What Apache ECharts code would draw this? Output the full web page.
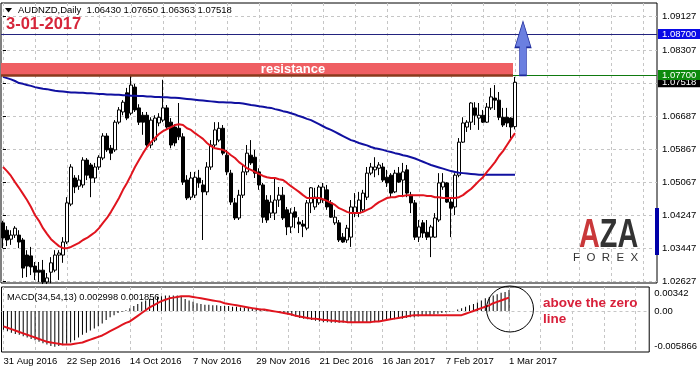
<!DOCTYPE html>
<html><head><meta charset="utf-8">
<script src="https://cdn.jsdelivr.net/npm/echarts@6/dist/echarts.min.js"></script>
<style>html,body{margin:0;padding:0;background:#fff}#c{width:700px;height:372px}</style>
</head><body><div id="c"></div>
<script>
// ---------- data ----------
const dateLabels = ['31 Aug 2016','22 Sep 2016','14 Oct 2016','7 Nov 2016','29 Nov 2016','21 Dec 2016','16 Jan 2017','7 Feb 2017','1 Mar 2017'];
const labelBars = [0,16,32,48,64,80,96,112,128];
const gridBars = [0,8,16,24,32,40,48,56,64,72,80,88,96,104,112,120,128,136,144,152,160];
const priceTicks = [1.02627,1.03447,1.04247,1.05067,1.05867,1.06687,1.07487,1.08307,1.09127];
const priceLabels = [1.02627,1.03447,1.04247,1.05067,1.05867,1.06687,1.08307,1.09127];
const macdLabels = [-0.005866,0,0.00342];
const macdGrid = [0];
// [open, close, low, high]
const candles = [
[1.0407,1.0370,1.0345,1.0412],[1.0389,1.0365,1.0350,1.0399],[1.0367,1.0377,1.0353,1.0389],[1.0377,1.0394,1.0370,1.0399],
[1.0377,1.0360,1.0345,1.0389],[1.0365,1.0296,1.0272,1.0370],[1.0328,1.0301,1.0274,1.0340],[1.0326,1.0299,1.0279,1.0348],
[1.0301,1.0286,1.0267,1.0311],[1.0291,1.0286,1.0262,1.0311],[1.0291,1.0262,1.0257,1.0316],[1.0262,1.0272,1.0257,1.0284],
[1.0286,1.0309,1.0259,1.0323],[1.0291,1.0328,1.0286,1.0340],[1.0328,1.0333,1.0267,1.0340],[1.0328,1.0360,1.0309,1.0372],
[1.0360,1.0456,1.0355,1.0470],[1.0453,1.0544,1.0448,1.0551],[1.0517,1.0495,1.0480,1.0524],[1.0497,1.0512,1.0488,1.0524],
[1.0500,1.0561,1.0493,1.0568],[1.0561,1.0524,1.0512,1.0566],[1.0549,1.0517,1.0470,1.0554],[1.0517,1.0544,1.0505,1.0554],
[1.0544,1.0568,1.0537,1.0573],[1.0566,1.0620,1.0561,1.0627],[1.0620,1.0586,1.0581,1.0627],[1.0590,1.0578,1.0561,1.0598],
[1.0586,1.0654,1.0581,1.0659],[1.0654,1.0684,1.0649,1.0691],[1.0679,1.0703,1.0671,1.0708],[1.0726,1.0664,1.0659,1.0738],
[1.0676,1.0745,1.0671,1.0770],[1.0740,1.0684,1.0679,1.0748],[1.0689,1.0654,1.0647,1.0698],[1.0671,1.0654,1.0623,1.0679],
[1.0671,1.0598,1.0590,1.0679],[1.0598,1.0659,1.0590,1.0666],[1.0610,1.0664,1.0605,1.0671],[1.0652,1.0666,1.0644,1.0676],
[1.0659,1.0689,1.0654,1.0758],[1.0689,1.0642,1.0635,1.0696],[1.0654,1.0598,1.0590,1.0664],[1.0642,1.0603,1.0595,1.0649],
[1.0639,1.0618,1.0610,1.0701],[1.0618,1.0507,1.0500,1.0627],[1.0512,1.0468,1.0463,1.0524],[1.0470,1.0517,1.0463,1.0532],
[1.0475,1.0519,1.0468,1.0532],[1.0517,1.0505,1.0493,1.0537],[1.0500,1.0483,1.0365,1.0512],[1.0483,1.0544,1.0475,1.0556],
[1.0544,1.0598,1.0537,1.0610],[1.0598,1.0635,1.0590,1.0654],[1.0610,1.0639,1.0605,1.0654],[1.0639,1.0578,1.0573,1.0647],
[1.0573,1.0532,1.0524,1.0586],[1.0529,1.0458,1.0451,1.0537],[1.0456,1.0419,1.0414,1.0468],[1.0419,1.0475,1.0414,1.0488],
[1.0475,1.0532,1.0468,1.0549],[1.0532,1.0578,1.0524,1.0598],[1.0573,1.0554,1.0549,1.0610],[1.0568,1.0529,1.0517,1.0586],
[1.0532,1.0500,1.0488,1.0541],[1.0500,1.0421,1.0407,1.0505],[1.0463,1.0414,1.0407,1.0475],[1.0431,1.0458,1.0419,1.0475],
[1.0431,1.0463,1.0414,1.0517],[1.0463,1.0475,1.0446,1.0495],[1.0475,1.0419,1.0414,1.0495],[1.0439,1.0397,1.0377,1.0446],
[1.0397,1.0431,1.0382,1.0443],[1.0434,1.0421,1.0394,1.0446],[1.0409,1.0404,1.0382,1.0421],[1.0404,1.0399,1.0372,1.0414],
[1.0394,1.0456,1.0389,1.0463],[1.0456,1.0493,1.0431,1.0495],[1.0446,1.0470,1.0439,1.0493],[1.0456,1.0495,1.0451,1.0500],
[1.0463,1.0495,1.0456,1.0505],[1.0488,1.0446,1.0439,1.0500],[1.0456,1.0421,1.0419,1.0463],[1.0407,1.0421,1.0402,1.0439],
[1.0407,1.0365,1.0360,1.0414],[1.0372,1.0360,1.0358,1.0382],[1.0365,1.0394,1.0358,1.0402],[1.0372,1.0446,1.0348,1.0463],
[1.0431,1.0446,1.0421,1.0480],[1.0431,1.0463,1.0421,1.0483],[1.0439,1.0480,1.0434,1.0488],[1.0470,1.0529,1.0463,1.0544],
[1.0529,1.0544,1.0524,1.0554],[1.0537,1.0544,1.0519,1.0568],[1.0541,1.0549,1.0524,1.0556],[1.0544,1.0512,1.0507,1.0554],
[1.0519,1.0505,1.0495,1.0537],[1.0524,1.0480,1.0470,1.0529],[1.0483,1.0529,1.0480,1.0537],[1.0529,1.0507,1.0505,1.0544],
[1.0512,1.0532,1.0470,1.0554],[1.0537,1.0480,1.0470,1.0549],[1.0475,1.0456,1.0431,1.0483],[1.0456,1.0372,1.0365,1.0463],
[1.0372,1.0397,1.0360,1.0414],[1.0407,1.0382,1.0370,1.0414],[1.0384,1.0372,1.0365,1.0414],[1.0372,1.0397,1.0323,1.0402],
[1.0372,1.0419,1.0370,1.0431],[1.0414,1.0505,1.0409,1.0529],[1.0495,1.0507,1.0488,1.0529],[1.0505,1.0458,1.0456,1.0507],
[1.0458,1.0443,1.0372,1.0470],[1.0446,1.0524,1.0426,1.0529],[1.0524,1.0605,1.0519,1.0615],[1.0605,1.0652,1.0603,1.0666],
[1.0642,1.0654,1.0630,1.0659],[1.0654,1.0701,1.0635,1.0703],[1.0689,1.0671,1.0647,1.0703],[1.0664,1.0671,1.0635,1.0701],
[1.0671,1.0654,1.0652,1.0684],[1.0654,1.0691,1.0652,1.0701],[1.0689,1.0716,1.0684,1.0738],[1.0713,1.0708,1.0684,1.0745],
[1.0708,1.0666,1.0659,1.0728],[1.0666,1.0647,1.0642,1.0689],[1.0666,1.0652,1.0642,1.0689],[1.0664,1.0642,1.0615,1.0666],
[1.06430,1.07518,1.06363,1.07650]
];
const maRed = [
1.0544,1.0534,1.0522,1.0507,1.0493,1.0478,1.0463,1.0446,1.0426,1.0412,
1.0394,1.0380,1.0367,1.0358,1.0350,1.0345,1.0345,1.0348,1.0353,1.0358,
1.0365,1.0370,1.0377,1.0384,1.0394,1.0407,1.0419,1.0434,1.0451,1.0468,
1.0488,1.0505,1.0524,1.0544,1.0561,1.0578,1.0593,1.0605,1.0615,1.0625,
1.0632,1.0637,1.0642,1.0647,1.0649,1.0647,1.0639,1.0635,1.0627,1.0620,
1.0613,1.0603,1.0595,1.0590,1.0588,1.0586,1.0581,1.0573,1.0566,1.0556,
1.0549,1.0541,1.0537,1.0532,1.0527,1.0522,1.0519,1.0517,1.0517,1.0514,
1.0512,1.0505,1.0497,1.0490,1.0483,1.0475,1.0468,1.0468,1.0468,1.0468,
1.0465,1.0461,1.0456,1.0451,1.0443,1.0439,1.0434,1.0431,1.0431,1.0431,
1.0434,1.0439,1.0443,1.0451,1.0458,1.0463,1.0468,1.0470,1.0470,1.0473,
1.0473,1.0475,1.0475,1.0475,1.0475,1.0475,1.0473,1.0473,1.0470,1.0470,
1.0468,1.0468,1.0468,1.0468,1.0470,1.0475,1.0483,1.0490,1.0500,1.0510,
1.0519,1.0532,1.0544,1.0556,1.0571,1.0583,1.0598,1.0613,1.0627];
const maBlue = [
1.0765,1.0762,1.0759,1.0755,1.0750,1.0748,1.0745,1.0743,1.0740,1.0738,
1.0736,1.0735,1.0733,1.0731,1.0730,1.0729,1.0728,1.0727,1.0727,1.0726,
1.0726,1.0725,1.0725,1.0724,1.0723,1.0723,1.0722,1.0722,1.0721,1.0721,
1.0720,1.0720,1.0719,1.0719,1.0718,1.0718,1.0717,1.0717,1.0716,1.0716,
1.0715,1.0715,1.0714,1.0714,1.0713,1.0712,1.0711,1.0710,1.0709,1.0708,
1.0707,1.0706,1.0705,1.0704,1.0703,1.0703,1.0702,1.0702,1.0701,1.0701,
1.0700,1.0698,1.0696,1.0695,1.0693,1.0692,1.0690,1.0689,1.0686,1.0684,
1.0681,1.0679,1.0676,1.0673,1.0669,1.0666,1.0662,1.0659,1.0654,1.0649,
1.0644,1.0639,1.0635,1.0630,1.0625,1.0620,1.0615,1.0610,1.0607,1.0603,
1.0600,1.0597,1.0593,1.0590,1.0588,1.0586,1.0583,1.0581,1.0578,1.0576,
1.0573,1.0571,1.0568,1.0565,1.0561,1.0557,1.0553,1.0549,1.0546,1.0543,
1.0540,1.0537,1.0534,1.0532,1.0530,1.0529,1.0528,1.0527,1.0526,1.0525,
1.0525,1.0525,1.0525,1.0525,1.0525,1.0525,1.0525,1.0525,1.0525];
const macdHist = [
-0.0027,-0.0029,-0.0031,-0.0033,-0.0034,-0.0036,-0.0038,-0.0040,-0.0042,-0.0044,
-0.0046,-0.0048,-0.0050,-0.0051,-0.0050,-0.0049,-0.0047,-0.0045,-0.0042,-0.0038,
-0.0034,-0.0031,-0.0028,-0.0025,-0.0022,-0.0018,-0.0013,-0.0009,-0.0006,-0.0003,
-0.0001,0.0001,0.0004,0.0007,0.0010,0.0013,0.0015,0.0017,0.0019,0.0020,
0.0021,0.0022,0.0022,0.0022,0.0022,0.0020,0.0017,0.0015,0.0013,0.0011,
0.0010,0.0009,0.0009,0.0008,0.0008,0.0007,0.0007,0.0007,0.0006,0.0006,
0.0005,0.0005,0.0005,0.0004,0.0004,0.0003,0.0002,0.0001,0.0000,-0.0001,
-0.0002,-0.0004,-0.0005,-0.0007,-0.0008,-0.0010,-0.0011,-0.0012,-0.0013,-0.0014,
-0.0015,-0.0016,-0.0016,-0.0017,-0.0017,-0.0017,-0.0017,-0.0017,-0.0017,-0.0017,
-0.0017,-0.0016,-0.0016,-0.0016,-0.0016,-0.0015,-0.0014,-0.0013,-0.0012,-0.0012,
-0.0011,-0.0011,-0.0010,-0.0009,-0.0009,-0.0008,-0.0007,-0.0006,-0.0006,-0.0005,
-0.0004,-0.0003,-0.0002,-0.0001,0.0000,0.0002,0.0004,0.0006,0.0008,0.0010,
0.0012,0.0015,0.0018,0.0020,0.0022,0.0024,0.0026,0.0027,0.0030];
const macdSignal = [
-0.0022,-0.0024,-0.0026,-0.0028,-0.0030,-0.0032,-0.0034,-0.0036,-0.0038,-0.0040,
-0.0042,-0.0044,-0.0045,-0.0046,-0.0047,-0.0048,-0.0048,-0.0048,-0.0047,-0.0046,
-0.0045,-0.0043,-0.0041,-0.0039,-0.0037,-0.0035,-0.0032,-0.0029,-0.0026,-0.0023,
-0.0020,-0.0017,-0.0015,-0.0011,-0.0007,-0.0003,0.0001,0.0005,0.0008,0.0011,
0.0014,0.0016,0.0018,0.0019,0.0020,0.0021,0.0021,0.0021,0.0020,0.0019,
0.0018,0.0017,0.0016,0.0015,0.0014,0.0013,0.0011,0.0010,0.0009,0.0008,
0.0007,0.0006,0.0005,0.0004,0.0003,0.0002,0.0002,0.0001,0.0000,-0.0001,
-0.0002,-0.0003,-0.0004,-0.0005,-0.0007,-0.0008,-0.0009,-0.0010,-0.0011,-0.0011,
-0.0012,-0.0013,-0.0013,-0.0014,-0.0014,-0.0015,-0.0015,-0.0016,-0.0016,-0.0016,
-0.0016,-0.0016,-0.0016,-0.0016,-0.0015,-0.0015,-0.0014,-0.0013,-0.0012,-0.0011,
-0.0010,-0.0009,-0.0008,-0.0007,-0.0006,-0.0006,-0.0006,-0.0006,-0.0006,-0.0006,
-0.0006,-0.0006,-0.0006,-0.0006,-0.0006,-0.0006,-0.0006,-0.0004,-0.0002,0.0000,
0.0002,0.0004,0.0006,0.0008,0.0011,0.0013,0.0015,0.0017,0.0019];
const resistanceZone = [1.0770, 1.0799];
const resistanceEndBar = 127.5;
const levelBlue = 1.08700;
const levelGreen = 1.07700;
const lastClose = 1.07518;
const arrowBar = 130, arrowMid = 1.0835;
const macdText = 'MACD(34,54,13) 0.002998 0.001856';

// ---------- chart ----------
const FONT = 'Liberation Sans, Arial, sans-serif';
const last = candles[candles.length - 1];
const headerText = 'AUDNZD,Daily  ' + [last[0], last[3], last[2], last[1]].map(v => v.toFixed(5)).join(' ');
const gridLine = {show: true, lineStyle: {color: '#c6c6c6', type: [3, 3], width: 1}};
const tag = (text, bg) => ({show: true, position: 'end', distance: 1, formatter: text, color: '#fff',
  backgroundColor: bg, padding: [1, 4, 0, 4], fontSize: 9.5, fontFamily: FONT, lineHeight: 9});

const chart = echarts.init(document.getElementById('c'));
chart.setOption({
  animation: false,
  backgroundColor: '#fff',
  grid: [
    {left: 1, top: 3, width: 656, height: 280, show: true, borderColor: '#000', borderWidth: 1},
    {left: 1.5, top: 287, width: 656, height: 65, show: true, borderColor: '#000', borderWidth: 1}
  ],
  xAxis: [
    {type: 'value', gridIndex: 0, min: -0.5, max: 163.5, axisLine: {show: false},
     axisTick: {show: false, customValues: gridBars}, axisLabel: {show: false}, splitLine: gridLine},
    {type: 'value', gridIndex: 1, min: -0.5, max: 163.5, axisLine: {show: false},
     axisTick: {show: false, customValues: gridBars},
     axisLabel: {show: true, customValues: labelBars, formatter: v => dateLabels[labelBars.indexOf(v)] || '',
       align: 'left', color: '#000', fontSize: 9.5, fontFamily: FONT, margin: 4},
     splitLine: gridLine}
  ],
  yAxis: [
    {type: 'value', gridIndex: 0, position: 'right', min: 1.02595, max: 1.09463,
     axisLine: {show: false},
     axisTick: {show: true, customValues: priceTicks, length: 3, lineStyle: {color: '#000'}},
     axisLabel: {customValues: priceLabels, formatter: v => v.toFixed(5), color: '#000', fontSize: 9.5, fontFamily: FONT, margin: 5},
     splitLine: gridLine},
    {type: 'value', gridIndex: 1, position: 'right', min: -0.005866, max: 0.00342,
     axisLine: {show: false},
     axisTick: {show: false, customValues: macdGrid},
     axisLabel: {customValues: macdLabels, color: '#000', fontSize: 9.5, fontFamily: FONT, margin: 5,
       formatter: v => v === 0 ? '0.00' : (v > 0 ? '{t|' + v + '}' : '{b|' + v + '}'),
       rich: {t: {padding: [12, 0, 0, 0], fontSize: 9.5, fontFamily: FONT, color: '#000'},
              b: {padding: [0, 0, 11, 0], fontSize: 9.5, fontFamily: FONT, color: '#000'}}},
     splitLine: gridLine}
  ],
  series: [
    {type: 'candlestick', xAxisIndex: 0, yAxisIndex: 0, silent: true,
     data: candles.map((c, i) => [i, c[0], c[1], c[2], c[3]]),
     encode: {x: 0, y: [1, 2, 3, 4]},
     barWidth: 3,
     itemStyle: {color: '#fff', color0: '#000', borderColor: '#000', borderColor0: '#000', borderWidth: 1},
     markArea: {silent: true, itemStyle: {color: '#ef5f63'},
       label: {show: true, position: 'inside', offset: [36, 0], formatter: 'resistance', color: '#fff',
         fontWeight: 'bold', fontSize: 13, fontFamily: FONT},
       data: [[{coord: [-0.5, resistanceZone[1]]}, {coord: [resistanceEndBar, resistanceZone[0]]}]]},
     markLine: {silent: true, symbol: ['none', 'none'], animation: false, precision: 5,
       data: [
         [{coord: [-0.5, lastClose], lineStyle: {color: 'rgba(0,0,0,0)', width: 0}, label: tag(lastClose.toFixed(5), '#000')},
          {coord: [163.5, lastClose]}],
         [{coord: [-0.5, levelBlue], lineStyle: {color: '#23237f', width: 1, type: 'solid'}, label: tag(levelBlue.toFixed(5), '#0a0ae6')},
          {coord: [163.5, levelBlue]}],
         [{coord: [-0.5, levelGreen], lineStyle: {color: '#8a3a1c', width: 2.5, type: 'solid'}, label: {show: false}},
          {coord: [resistanceEndBar, levelGreen]}],
         [{coord: [resistanceEndBar, levelGreen], lineStyle: {color: '#0f7a0f', width: 1, type: 'solid'},
           label: tag(levelGreen.toFixed(5), '#0d8a0d')},
          {coord: [163.5, levelGreen]}]
       ]},
     markPoint: {silent: true, symbol: 'path://M8 0L16 26L11.5 26L11.5 54L4.5 54L4.5 26L0 26Z',
       symbolSize: [16, 54], label: {show: false},
       itemStyle: {color: '#6b7fe0', borderColor: '#1c2a9c', borderWidth: 1},
       data: [{coord: [arrowBar, arrowMid]}]}
    },
    {type: 'line', xAxisIndex: 0, yAxisIndex: 0, silent: true, symbol: 'none', z: 3,
     data: maBlue.map((v, i) => [i, v]), lineStyle: {color: '#1010a0', width: 2}},
    {type: 'line', xAxisIndex: 0, yAxisIndex: 0, silent: true, symbol: 'none', z: 3,
     data: maRed.map((v, i) => [i, v]), lineStyle: {color: '#e0141e', width: 2}},
    {type: 'bar', xAxisIndex: 1, yAxisIndex: 1, silent: true, barWidth: 1,
     data: macdHist.map((v, i) => [i, v]), itemStyle: {color: '#000'}},
    {type: 'line', xAxisIndex: 1, yAxisIndex: 1, silent: true, symbol: 'none', z: 3,
     data: macdSignal.map((v, i) => [i, v]), lineStyle: {color: '#e0141e', width: 2}}
  ],
  graphic: [
    {type: 'polygon', z: 100, shape: {points: [[5, 8], [12, 8], [8.5, 12.5]]}, style: {fill: '#000'}},
    {type: 'text', z: 100, x: 18, y: 10.5, style: {text: headerText, fontSize: 9.5, fontFamily: FONT, fill: '#000', verticalAlign: 'middle'}},
    {type: 'text', z: 100, x: 6, y: 24.5, style: {text: '3-01-2017', fontSize: 16.5, fontWeight: 'bold', fontFamily: FONT, fill: '#d6263b', verticalAlign: 'middle'}},
    {type: 'text', z: 100, x: 7, y: 297, style: {text: macdText, fontSize: 9.3, fontFamily: FONT, fill: '#000', verticalAlign: 'middle'}},
    {type: 'text', z: 100, x: 543, y: 303, style: {text: 'above the zero', fontSize: 13.5, fontWeight: 'bold', fontFamily: FONT, fill: '#d8203a', verticalAlign: 'middle'}},
    {type: 'text', z: 100, x: 543, y: 319, style: {text: 'line', fontSize: 13.5, fontWeight: 'bold', fontFamily: FONT, fill: '#d8203a', verticalAlign: 'middle'}},
    {type: 'ellipse', z: 100, shape: {cx: 510, cy: 309, rx: 23.5, ry: 23}, style: {fill: 'none', stroke: '#000', lineWidth: 1}},
    {type: 'text', z: 100, x: 579, y: 236, scaleX: 0.72, style: {text: '{r|A}{d|ZA}', verticalAlign: 'middle',
      rich: {r: {fill: '#c9383a', fontSize: 40, fontWeight: 'bold', fontFamily: FONT},
             d: {fill: '#333333', fontSize: 40, fontWeight: 'bold', fontFamily: FONT}}}},
    {type: 'text', z: 100, x: 573, y: 258, style: {text: 'F  O  R  E  X', fontSize: 11.5, fontFamily: FONT, fill: '#333', verticalAlign: 'middle'}},
    {type: 'rect', z: 100, shape: {x: 655, y: 208, width: 4, height: 47}, style: {fill: '#0000a8'}}
  ]
});
</script>
</body></html>
